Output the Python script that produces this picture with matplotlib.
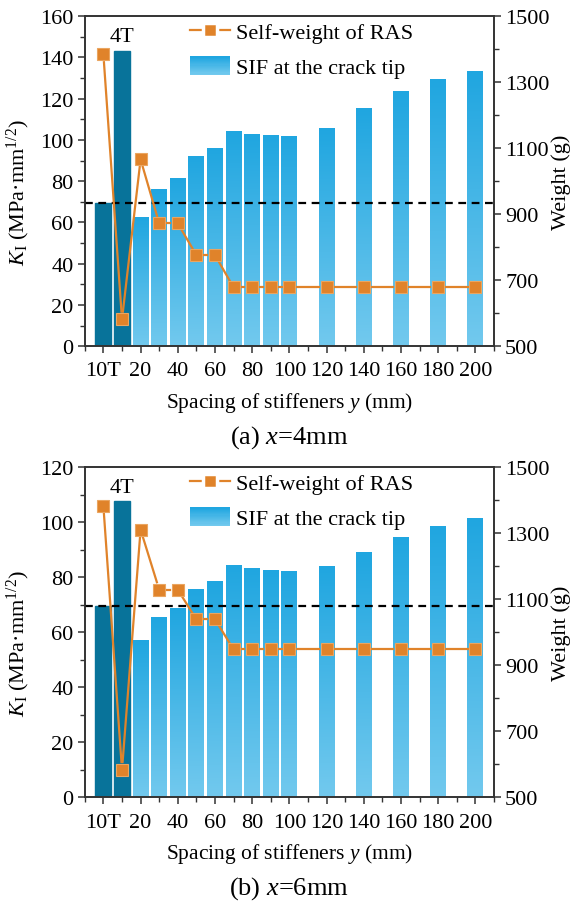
import numpy as np
import matplotlib
matplotlib.use("Agg")
import matplotlib.pyplot as plt
from matplotlib.lines import Line2D
from matplotlib.patches import Rectangle
from matplotlib.legend_handler import HandlerBase
from matplotlib.ticker import MultipleLocator, FixedLocator
from matplotlib.colors import LinearSegmentedColormap

plt.rcParams["font.family"] = ["Liberation Serif", "DejaVu Serif"]
plt.rcParams["mathtext.fontset"] = "custom"
plt.rcParams["mathtext.rm"] = "Liberation Serif"
plt.rcParams["mathtext.it"] = "Liberation Serif:italic"

# Data
spacing = [0, 10, 20, 30, 40, 50, 60, 70, 80, 90, 100, 120, 140, 160, 180, 200]
tick_pos = [0, 20, 40, 60, 80, 100, 120, 140, 160, 180, 200]
tick_labels = ["10T", "20", "40", "60", "80", "100", "120", "140", "160", "180", "200"]
weight_ticks = [500, 700, 900, 1100, 1300, 1500]

sif_a = [69.5, 143.2, 62.1, 76.1, 81.0, 91.8, 96.0, 104.2, 102.8, 102.3, 101.8,
         105.7, 115.4, 123.2, 129.0, 133.3]
weight_a = [1384, 581, 1066, 872, 872, 776, 776, 678, 678, 678, 678,
            678, 678, 678, 678, 678]
sif_b = [69.5, 107.7, 57.0, 65.4, 68.6, 75.5, 78.4, 84.2, 83.1, 82.4, 82.0,
         83.8, 89.1, 94.2, 98.3, 101.2]
weight_b = [1382, 583, 1311, 1129, 1129, 1039, 1039, 948, 948, 948, 948,
            948, 948, 948, 948, 948]
threshold = 69.5
n_dark = 2

DARK = "#08739a"
ORANGE = "#e0832a"
grad = LinearSegmentedColormap.from_list("sif", ["#72c9ee", "#20a6e0"])


class GradientHandler(HandlerBase):
    def create_artists(self, legend, orig_handle, xd, yd, w, h, fontsize, trans):
        n = 16
        arts = []
        for i in range(n):
            r = Rectangle((-xd, -yd + h * i / n), w, h / n * 1.05,
                          facecolor=grad(i / (n - 1)), edgecolor="none",
                          transform=trans)
            arts.append(r)
        return arts


def gapped_line(ax, xs, ys, gap_px, **kw):
    disp = ax.transData.transform(np.column_stack([xs, ys]))
    inv = ax.transData.inverted()
    for p, q in zip(disp[:-1], disp[1:]):
        d = q - p
        L = np.hypot(*d)
        if L <= 2 * gap_px:
            continue
        u = d / L
        a, b = inv.transform([p + u * gap_px, q - u * gap_px])
        ax.plot([a[0], b[0]], [a[1], b[1]], **kw)


panels = [
    ("(a) $x$=4mm", sif_a, weight_a, 160, 150.0, 0.616),
    ("(b) $x$=6mm", sif_b, weight_b, 120, 112.7, 0.117),
]

fig = plt.figure(figsize=(5.73, 9.04), dpi=100)
FS = 16
spine_c = "#333333"

for caption, sif, weight, ymax, t4_y, bottom in panels:
    ax = fig.add_axes([0.148, bottom, 0.714, 0.365])
    ax2 = ax.twinx()

    bars = ax.bar(spacing, sif, width=8.5, color="#4ab8e8", zorder=2)
    for i, b in enumerate(bars):
        if i < n_dark:
            b.set_color(DARK)
        else:
            x0 = b.get_x()
            b.set_alpha(0)
            ax.imshow(np.linspace(0, 1, 128).reshape(-1, 1), cmap=grad,
                      extent=[x0, x0 + b.get_width(), 0, b.get_height()],
                      origin="lower", aspect="auto", zorder=2)

    ax.axhline(threshold, color="black", lw=1.6, ls=(0, (3.5, 2.5)), zorder=4)
    ax.text(10, t4_y, "4T", ha="center", va="center", fontsize=FS)

    ax.set_xlim(-10, 210)
    ax.set_ylim(0, ymax)
    ax2.set_ylim(500, 1500)

    ax.xaxis.set_major_locator(FixedLocator(tick_pos))
    ax.set_xticklabels(tick_labels)
    ax.xaxis.set_minor_locator(MultipleLocator(10))
    ax.yaxis.set_major_locator(MultipleLocator(20))
    ax.yaxis.set_minor_locator(MultipleLocator(10))
    ax2.yaxis.set_major_locator(FixedLocator(weight_ticks))
    ax2.yaxis.set_minor_locator(MultipleLocator(100))

    for a in (ax, ax2):
        a.tick_params(which="major", direction="out", length=5, width=1.1,
                      labelsize=FS, color=spine_c, pad=3)
        a.tick_params(which="minor", direction="out", length=3.5, width=1.0,
                      color=spine_c)
        for s in a.spines.values():
            s.set_linewidth(1.2)
            s.set_color(spine_c)
    ax.tick_params(axis="x", pad=6)

    gapped_line(ax2, spacing, weight, 7.8, color=ORANGE, lw=1.6, zorder=5)
    ax2.plot(spacing, weight, ls="none", marker="s", ms=8.4, mfc=ORANGE,
             mec="#eaa560", mew=0.8, zorder=6)

    ax.set_ylabel(r"$K_\mathrm{I}$ (MPa·mm$^{1/2}$)", fontsize=FS)
    ax.yaxis.set_label_coords(-0.128, 0.47)
    ax2.set_ylabel("Weight (g)", fontsize=FS)
    ax2.yaxis.set_label_coords(1.14, 0.5)
    ax.text(0.5, -0.17, "Spacing of stiffeners $y$ (mm)", transform=ax.transAxes,
            ha="center", va="center", fontsize=15.5)
    ax.text(0.5, -0.275, caption, transform=ax.transAxes,
            ha="center", va="center", fontsize=19)

    line_h = Line2D([], [], color=ORANGE, lw=1.6, marker="s", ms=9.5,
                    mfc=ORANGE, mec="white", mew=2.5)
    patch_h = Rectangle((0, 0), 1, 1)
    ax2.legend([line_h, patch_h], ["Self-weight of RAS", "SIF at the crack tip"],
               handler_map={Rectangle: GradientHandler()},
               loc="upper left", bbox_to_anchor=(0.257, 0.985), frameon=False,
               fontsize=FS, borderpad=0, borderaxespad=0, handlelength=1.8,
               handleheight=0.9, handletextpad=0.25, labelspacing=0.6)

fig.savefig("out.png", dpi=100)
plt.close(fig)
